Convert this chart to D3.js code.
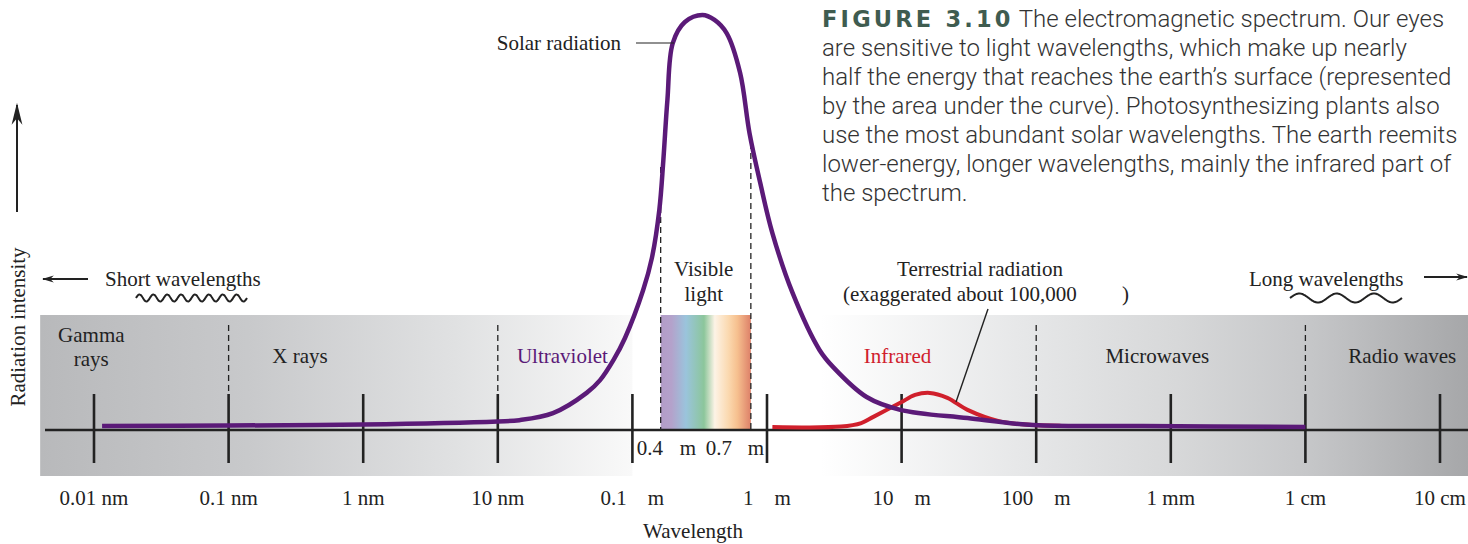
<!DOCTYPE html>
<html>
<head>
<meta charset="utf-8">
<script src="https://cdn.jsdelivr.net/npm/d3@7"></script>
<style>
  body { margin: 0; background: #fff; }
  svg { display: block; }
  text { white-space: pre; }
</style>
</head>
<body>
<svg id="chart" width="1468" height="544"></svg>
<script>
// wavelength axis, in log10(metres)
const tickExponents = [-11, -10, -9, -8, -7, -6, -5, -4, -3, -2, -1];
const tickLabels = ["0.01 nm", "0.1 nm", "1 nm", "10 nm", "0.1    m", "1    m", "10    m", "100    m", "1 mm", "1 cm", "10 cm"];

// region boundaries (dashed) and names
const regionBounds = [-10, -8, -4, -2];
const regionNames = [["Gamma", "rays"], ["X rays"], ["Ultraviolet"], ["Infrared"], ["Microwaves"], ["Radio waves"]];
const regionCenters = [-11.02, -9.47, -7.52, -5.03, -3.10, -1.28];

// visible band (schematic positions as drawn)
const visibleRange = [-6.79, -6.12];
const visibleNumbers = ["0.4", "0.7"];

// shaded backgrounds
const shadeLeft = [-11.4, -7.0];
const shadeRight = [-5.6, -0.79];

// solar radiation curve [log10 wavelength, relative intensity]
const solarLog = [-10.94, -10.0, -9.0, -8.0, -7.84, -7.59, -7.34, -7.24, -7.14, -7.055, -6.92, -6.855, -6.80, -6.77, -6.74, -6.70, -6.61, -6.48, -6.39, -6.30, -6.20, -6.13, -6.05, -5.96, -5.81, -5.61, -5.51, -5.26, -5.01, -4.51, -4.02, -3.21, -2.0];
const solarValue = [0.5, 0.6, 0.85, 1.6, 1.9, 3.6, 8.5, 11.6, 16.5, 21.8, 33.4, 41.2, 52.8, 64.9, 79.4, 93.2, 98.3, 100, 98.8, 95.6, 86.0, 71.4, 59.3, 47.2, 32.7, 18.9, 14.8, 7.5, 4.4, 2.4, 0.7, 0.5, 0.25];

// terrestrial radiation curve (exaggerated)
const earthLog = [-5.96, -5.45, -5.30, -5.21, -5.01, -4.90, -4.79, -4.66, -4.51, -4.27, -4.02, -3.82];
const earthValue = [0.25, 0.35, 1.2, 2.7, 6.1, 8.0, 8.5, 7.3, 4.4, 1.6, 0.7, 0.55];

const captionTitle = "FIGURE 3.10";
const captionLines = [
  "The electromagnetic spectrum. Our eyes",
  "are sensitive to light wavelengths, which make up nearly",
  "half the energy that reaches the earth\u2019s surface (represented",
  "by the area under the curve). Photosynthesizing plants also",
  "use the most abundant solar wavelengths. The earth reemits",
  "lower-energy, longer wavelengths, mainly the infrared part of",
  "the spectrum."
];

const SERIF = "'Liberation Serif', 'Times New Roman', serif";
const SANS = "Roboto, 'Liberation Sans', sans-serif";
const PURPLE = "#5b1a78";
const RED = "#d0202c";
const INK = "#222";
const FS = 21;

const svg = d3.select("#chart");
const x = d3.scaleLinear().domain([-11, -1]).range([94, 1440]);
const y = d3.scaleLinear().domain([0, 100]).range([428, 15]);
const baseY = 430;

const defs = svg.append("defs");

// 背景渐变
const gl = defs.append("linearGradient").attr("id", "shadeL")
  .attr("gradientUnits", "userSpaceOnUse")
  .attr("x1", x(shadeLeft[0])).attr("x2", x(shadeLeft[1]));
[[0, "#b8b9bb"], [0.35, "#c8c9cb"], [0.7, "#e0e1e2"], [1, "#f9f9f9"]]
  .forEach(([o, c]) => gl.append("stop").attr("offset", o).attr("stop-color", c));

const gr = defs.append("linearGradient").attr("id", "shadeR")
  .attr("gradientUnits", "userSpaceOnUse")
  .attr("x1", x(shadeRight[0])).attr("x2", x(shadeRight[1]));
[[0, "#ffffff"], [0.3, "#e7e8e9"], [0.55, "#d7d8d9"], [0.75, "#c6c7c9"], [1, "#a6a7a9"]]
  .forEach(([o, c]) => gr.append("stop").attr("offset", o).attr("stop-color", c));

const gv = defs.append("linearGradient").attr("id", "rainbow")
  .attr("gradientUnits", "userSpaceOnUse")
  .attr("x1", x(visibleRange[0])).attr("x2", x(visibleRange[1]));
[[0, "#b29cc7"], [0.12, "#b4a2cb"], [0.28, "#9ac4dc"], [0.48, "#8cc69b"], [0.6, "#fdf3e6"], [0.75, "#fbd9b0"], [0.85, "#f6c08f"], [1, "#dd8068"]]
  .forEach(([o, c]) => gv.append("stop").attr("offset", o).attr("stop-color", c));

const addArrow = (id, w, h) => defs.append("marker").attr("id", id)
  .attr("viewBox", "0 0 10 10").attr("refX", 9).attr("refY", 5)
  .attr("markerUnits", "userSpaceOnUse")
  .attr("markerWidth", w).attr("markerHeight", h).attr("orient", "auto")
  .attr("preserveAspectRatio", "none")
  .append("path").attr("d", "M0,0.5 L10,5 L0,9.5 L3,5 Z").attr("fill", INK);
addArrow("arrow", 12, 8);
addArrow("arrowBig", 22, 12);

const bandTop = 315, bandBottom = 476;

svg.append("rect")
  .attr("x", x(shadeLeft[0])).attr("y", bandTop)
  .attr("width", x(shadeLeft[1]) - x(shadeLeft[0])).attr("height", bandBottom - bandTop)
  .attr("fill", "url(#shadeL)");
svg.append("rect")
  .attr("x", x(shadeRight[0])).attr("y", bandTop)
  .attr("width", x(shadeRight[1]) - x(shadeRight[0])).attr("height", bandBottom - bandTop)
  .attr("fill", "url(#shadeR)");
svg.append("rect")
  .attr("x", x(visibleRange[0])).attr("y", bandTop)
  .attr("width", x(visibleRange[1]) - x(visibleRange[0])).attr("height", baseY - bandTop)
  .attr("fill", "url(#rainbow)");

// 区域分隔虚线
svg.selectAll(".region-dash").data(regionBounds).join("line")
  .attr("x1", d => x(d)).attr("x2", d => x(d))
  .attr("y1", 325).attr("y2", 394)
  .attr("stroke", INK).attr("stroke-width", 1.3).attr("stroke-dasharray", "6,4");

const solarPts = solarLog.map((d, i) => [d, solarValue[i]]);
const earthPts = earthLog.map((d, i) => [d, earthValue[i]]);
const line = d3.line().x(d => x(d[0])).y(d => y(d[1])).curve(d3.curveCatmullRom.alpha(0.5));

// visible light dashes run from the curve down to the axis
svg.selectAll(".vis-dash").data(visibleRange).join("line")
  .attr("x1", d => x(d)).attr("x2", d => x(d))
  .attr("y1", (d, i) => i === 0 ? 167 : 143).attr("y2", baseY)
  .attr("stroke", INK).attr("stroke-width", 1.3).attr("stroke-dasharray", "6,4");

// axis
svg.append("line").attr("x1", 45).attr("x2", 1468).attr("y1", baseY).attr("y2", baseY)
  .attr("stroke", INK).attr("stroke-width", 2.5);
svg.selectAll(".tick").data(tickExponents).join("line")
  .attr("x1", d => x(d)).attr("x2", d => x(d))
  .attr("y1", 394).attr("y2", 463)
  .attr("stroke", INK).attr("stroke-width", 2.6);

svg.selectAll(".tick-label").data(tickLabels).join("text")
  .attr("x", (d, i) => x(tickExponents[i])).attr("y", 505)
  .attr("text-anchor", "middle")
  .attr("font-family", SERIF).attr("font-size", FS).attr("fill", INK)
  .text(d => d);

// 0.4 / 0.7 labels: number left of each dash, unit after a gap
visibleNumbers.forEach((n, i) => {
  const vx = x(visibleRange[i]);
  const t = svg.append("text").attr("y", 455)
    .attr("font-family", SERIF).attr("font-size", FS).attr("fill", INK);
  t.append("tspan").attr("x", vx + (i === 0 ? -24 : -45)).text(n);
  t.append("tspan").attr("x", vx + (i === 0 ? 19 : -3)).text("m");
});

// curves
svg.append("path").datum(earthPts).attr("d", line)
  .attr("fill", "none").attr("stroke", RED).attr("stroke-width", 4);
svg.append("path").datum(solarPts).attr("d", line)
  .attr("fill", "none").attr("stroke", PURPLE).attr("stroke-width", 4.5)
  .attr("stroke-linejoin", "round");

// region labels
const regionColor = i => (i === 2 ? PURPLE : i === 3 ? RED : INK);
regionNames.forEach((lines, i) => {
  const t = svg.append("text")
    .attr("x", x(regionCenters[i]))
    .attr("y", lines.length > 1 ? 342 : 363)
    .attr("text-anchor", "middle")
    .attr("font-family", SERIF).attr("font-size", FS).attr("fill", regionColor(i));
  lines.forEach((l, j) => t.append("tspan")
    .attr("x", x(regionCenters[i])).attr("dy", j ? 24 : 0).text(l));
});

// annotations
const serifText = (tx, ty, s, anchor = "start") => svg.append("text")
  .attr("x", tx).attr("y", ty).attr("text-anchor", anchor)
  .attr("font-family", SERIF).attr("font-size", FS).attr("fill", INK).text(s);

serifText(x(-6.47), 276, "Visible", "middle");
serifText(x(-6.47), 301, "light", "middle");
serifText(621, 50, "Solar radiation", "end");
svg.append("line").attr("x1", 636).attr("x2", 674).attr("y1", 43).attr("y2", 43)
  .attr("stroke", INK).attr("stroke-width", 1.2);

serifText(980, 276, "Terrestrial radiation", "middle");
const ex = serifText(843, 301, "(exaggerated about 100,000");
ex.append("tspan").attr("x", 1122).text(")");
svg.append("line").attr("x1", 988).attr("y1", 309).attr("x2", 956).attr("y2", 402)
  .attr("stroke", INK).attr("stroke-width", 1.4);

serifText(105, 286, "Short wavelengths");
serifText(1249, 286, "Long wavelengths");
svg.append("line").attr("x1", 88).attr("x2", 43).attr("y1", 279).attr("y2", 279)
  .attr("stroke", INK).attr("stroke-width", 2).attr("marker-end", "url(#arrow)");
svg.append("line").attr("x1", 1424).attr("x2", 1467).attr("y1", 277).attr("y2", 277)
  .attr("stroke", INK).attr("stroke-width", 2).attr("marker-end", "url(#arrow)");

// wavy glyphs
const wave = (x0, x1, cy, periods, amp) => {
  const n = 200;
  const pts = d3.range(n + 1).map(k => {
    const t = k / n;
    return [x0 + t * (x1 - x0), cy - amp * Math.sin(t * periods * 2 * Math.PI)];
  });
  svg.append("path").attr("d", d3.line().curve(d3.curveBasis)(pts))
    .attr("fill", "none").attr("stroke", INK).attr("stroke-width", 2);
};
wave(136, 247, 298, 8, 3.5);
wave(1290, 1402, 298, 3, 4.5);

// y axis
svg.append("line").attr("x1", 17).attr("x2", 17).attr("y1", 212).attr("y2", 105)
  .attr("stroke", INK).attr("stroke-width", 2).attr("marker-end", "url(#arrowBig)");
svg.append("text")
  .attr("transform", "translate(25,327) rotate(-90)")
  .attr("text-anchor", "middle")
  .attr("font-family", SERIF).attr("font-size", FS).attr("fill", INK)
  .text("Radiation intensity");

serifText(693, 538, "Wavelength", "middle");

// caption
const cap = svg.append("text").attr("x", 822).attr("y", 27)
  .attr("font-family", SANS).attr("font-size", 24).attr("font-weight", 300).attr("fill", "#333");
cap.append("tspan").attr("font-weight", 700).attr("font-family", "'DejaVu Sans', sans-serif")
  .attr("font-size", 22.5).attr("letter-spacing", 3.2).attr("fill", "#3f5c50").text(captionTitle);
cap.append("tspan").attr("dx", 5).text(captionLines[0]);
captionLines.slice(1).forEach(l => cap.append("tspan").attr("x", 822).attr("dy", 29).text(l));
</script>
</body>
</html>
